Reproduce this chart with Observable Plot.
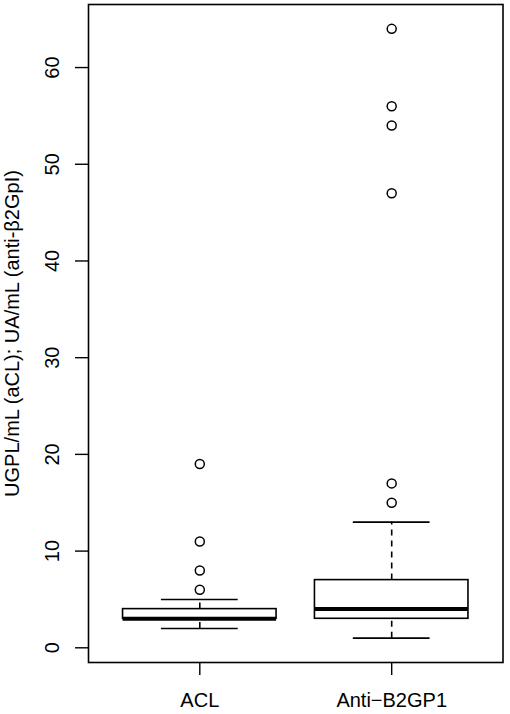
<!DOCTYPE html>
<html><head><meta charset="utf-8">
<script src="https://cdn.jsdelivr.net/npm/d3@7"></script>
<script src="https://cdn.jsdelivr.net/npm/@observablehq/plot@0.6"></script>
<style>html,body{margin:0;padding:0;background:#fff} svg{display:block}</style>
</head><body><div id="chart"></div>
<script>
const categories = ["ACL", "Anti−B2GP1"];
const whiskerLow = [2, 1];
const q1 = [3, 3];
const median = [3, 4];
const q3 = [4, 7];
const whiskerHigh = [5, 13];
const outliers = [[6, 8, 11, 19], [15, 17, 47, 54, 56, 64]];
const yTicks = [0, 10, 20, 30, 40, 50, 60];
const yLabel = "UGPL/mL (aCL); UA/mL (anti-β2GpI)";

const boxes = categories.map((c, i) => ({pos: i + 1, cat: c, lo: whiskerLow[i], q1: q1[i], med: median[i], q3: q3[i], hi: whiskerHigh[i]}));
const pts = outliers.flatMap((arr, i) => arr.map(v => ({pos: i + 1, v})));

const lw = 1.6;
const chart = Plot.plot({
  width: 510,
  height: 714,
  marginLeft: 88,
  marginRight: 7.5,
  marginTop: 4,
  marginBottom: 52,
  style: {fontFamily: "'Liberation Sans', Arial, Helvetica, sans-serif", fontSize: "20px", background: "#fff", color: "#000"},
  x: {type: "linear", domain: [0.42, 2.58]},
  y: {domain: [-1.52, 66.52]},
  marks: [
    Plot.ruleX(boxes, {x: "pos", y1: "q3", y2: "hi", stroke: "black", strokeWidth: lw, strokeDasharray: "6,5"}),
    Plot.ruleX(boxes, {x: "pos", y1: "lo", y2: "q1", stroke: "black", strokeWidth: lw, strokeDasharray: "6,5"}),
    Plot.ruleY(boxes, {y: "hi", x1: d => d.pos - 0.2, x2: d => d.pos + 0.2, stroke: "black", strokeWidth: lw}),
    Plot.ruleY(boxes, {y: "lo", x1: d => d.pos - 0.2, x2: d => d.pos + 0.2, stroke: "black", strokeWidth: lw}),
    Plot.rect(boxes, {x1: d => d.pos - 0.4, x2: d => d.pos + 0.4, y1: "q1", y2: "q3", fill: "white", stroke: "black", strokeWidth: lw}),
    Plot.ruleY(boxes, {y: "med", x1: d => d.pos - 0.4, x2: d => d.pos + 0.4, stroke: "black", strokeWidth: 4}),
    Plot.dot(pts, {x: "pos", y: "v", r: 4.5, stroke: "black", strokeWidth: 1.5, fill: "none"}),
    Plot.frame({stroke: "black", strokeWidth: lw}),
    Plot.axisY({ticks: yTicks, tickSize: 13, tickRotate: -90, tickPadding: 17, tickFormat: d => String(d), label: null, strokeWidth: 1.4}),
    Plot.axisX({ticks: [1, 2], tickFormat: i => categories[i - 1], tickSize: 13, tickPadding: 17.5, label: null, strokeWidth: 1.4}),
    Plot.text([yLabel], {frameAnchor: "left", textAnchor: "middle", dx: -76, rotate: -90, text: d => d, fill: "black"})
  ]
});
document.getElementById("chart").appendChild(chart);
</script>
</body></html>
